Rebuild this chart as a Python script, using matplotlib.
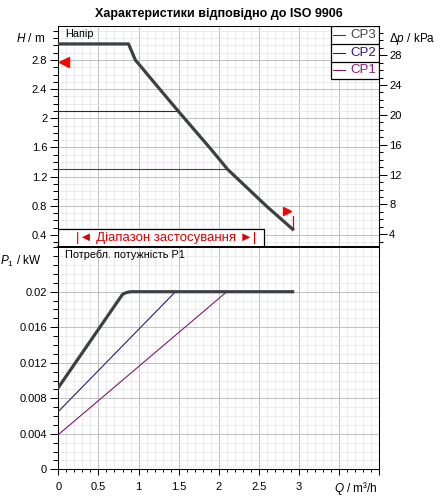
import numpy as np
import matplotlib
matplotlib.use("Agg")
import matplotlib.pyplot as plt
from matplotlib.patches import Rectangle
from matplotlib.ticker import MultipleLocator, FixedLocator, FuncFormatter

plt.rcParams['font.family'] = ['Liberation Sans', 'DejaVu Sans']
plt.rcParams['mathtext.fontset'] = 'custom'
plt.rcParams['mathtext.rm'] = 'Liberation Sans'
plt.rcParams['mathtext.it'] = 'Liberation Sans:italic'

# head curves, Q in m3/h, H in m
q_cp3 = [0, 0.875, 0.96, 1.31, 1.49, 1.9, 2.11, 2.6, 2.92]
h_cp3 = [3.02, 3.02, 2.80, 2.34, 2.105, 1.58, 1.30, 0.79, 0.48]
q_cp2 = [0, 1.49]
h_cp2 = [2.105, 2.105]
q_cp1 = [0, 2.11]
h_cp1 = [1.30, 1.30]

# power input P1, kW
qp_cp3 = [0, 0.80, 0.84, 0.88, 0.92, 2.92]
p_cp3 = [0.0092, 0.0197, 0.01988, 0.01997, 0.0200, 0.0200]
qp_cp2 = [0, 1.46]
p_cp2 = [0.0065, 0.0200]
qp_cp1 = [0, 2.10]
p_cp1 = [0.0039, 0.0200]

names = ['CP3', 'CP2', 'CP1']
colors = ['#3c4045', '#2a1c78', '#7d1a70']
label_colors = ['#474747', '#2a1c8a', '#8e1a80']
widths = [2.3, 0.8, 0.8]

h_mark = 2.77        # red marker on the H axis
kpa_per_m = 9.77
h_ticks = [0.4, 0.8, 1.2, 1.6, 2.0, 2.4, 2.8]
kpa_ticks = [4, 8, 12, 16, 20, 24, 28]
p_ticks = [0, 0.004, 0.008, 0.012, 0.016, 0.02]

W, H = 448, 501
fig = plt.figure(figsize=(W / 100, H / 100), dpi=100)
ax_top = fig.add_axes([58.3 / W, 1 - 246.7 / H, 321 / W, 220.7 / H])
ax_bot = fig.add_axes([58.3 / W, 1 - 469.3 / H, 321 / W, 222.6 / H])

fmt = FuncFormatter(lambda v, p: '%g' % round(v, 6))
grid_major = dict(color='#c2c2c2', lw=0.75)
grid_minor = dict(color='#e8e8e8', lw=0.6)

for ax in (ax_top, ax_bot):
    ax.set_xlim(0, 4.0)
    ax.xaxis.set_major_locator(MultipleLocator(0.5))
    ax.xaxis.set_minor_locator(MultipleLocator(0.1))
    ax.grid(which='major', **grid_major)
    ax.grid(which='minor', **grid_minor)
    ax.set_axisbelow(True)
    for s in ax.spines.values():
        s.set_linewidth(0.75)
    ax.tick_params(axis='y', which='major', length=6, width=0.75, pad=2, labelsize=8)
    ax.tick_params(axis='y', which='minor', length=3.6, width=0.75)

# ---- head plot ----
ax_top.set_ylim(0.2397, 3.266)
ax_top.yaxis.set_major_locator(FixedLocator(h_ticks))
ax_top.yaxis.set_minor_locator(MultipleLocator(0.1))
ax_top.yaxis.set_major_formatter(fmt)
ax_top.tick_params(axis='x', which='both', bottom=False, labelbottom=False)
ax_top.spines['bottom'].set_visible(False)

ax_top.plot(q_cp1, h_cp1, color=colors[2], lw=widths[2], zorder=3)
ax_top.plot(q_cp2, h_cp2, color=colors[1], lw=widths[1], zorder=3)
ax_top.plot(q_cp3, h_cp3, color=colors[0], lw=widths[0], zorder=4)

# red markers
ax_top.plot([0.074], [h_mark], marker='<', ms=6.5, color='#ff0000', zorder=5, clip_on=False)
ax_top.plot([q_cp3[-1], q_cp3[-1]], [h_cp3[-1], h_cp3[-1] + 0.18], color='#e00000', lw=0.9, zorder=5)
ax_top.plot([q_cp3[-1] - 0.07], [h_cp3[-1] + 0.25], marker='>', ms=6, color='#ff0000', zorder=5)

ax_r = ax_top.twinx()
lo, hi = ax_top.get_ylim()
ax_r.set_ylim(lo * kpa_per_m, hi * kpa_per_m)
ax_r.yaxis.set_major_locator(FixedLocator(kpa_ticks))
ax_r.yaxis.set_minor_locator(MultipleLocator(1))
ax_r.tick_params(axis='y', which='major', length=6, width=0.75, pad=1, labelsize=8)
ax_r.tick_params(axis='y', which='minor', length=3, width=0.75)
for s in ax_r.spines.values():
    s.set_visible(False)
ax_r.spines['right'].set_visible(True)
ax_r.spines['right'].set_linewidth(0.75)

ax_top.text(0.021, 0.962, 'Напір', transform=ax_top.transAxes, fontsize=7.8,
            ha='left', va='center', zorder=6)

# legend box with separators
lx0, lx1, ly0 = 0.8486, 1.0, 0.7585
row_h = (1 - ly0) / 3
ax_top.add_patch(Rectangle((lx0, ly0), lx1 - lx0, 1 - ly0, transform=ax_top.transAxes,
                           facecolor='white', edgecolor='black', lw=0.9, zorder=6))
for i, name in enumerate(names):
    yc = 1 - (i + 0.5) * row_h
    ax_top.plot([0.8555, 0.893], [yc, yc], transform=ax_top.transAxes,
                color=colors[i], lw=0.8, zorder=7)
    ax_top.text(0.9109, yc, name, transform=ax_top.transAxes, fontsize=9.5,
                color=label_colors[i], ha='left', va='center', zorder=7)
    if i > 0:
        ax_top.plot([lx0, lx1], [1 - i * row_h] * 2, transform=ax_top.transAxes,
                    color='black', lw=0.9, zorder=7)

# application range box
ax_top.add_patch(Rectangle((0, 0), 0.641, 0.0788, transform=ax_top.transAxes,
                           facecolor='white', edgecolor='black', lw=0.9, zorder=6))
ax_top.text(0.335, 0.039, '|◄ Діапазон застосування ►|', transform=ax_top.transAxes,
            fontsize=9.5, color='#e00000', ha='center', va='center', zorder=7)

# ---- power plot ----
ax_bot.set_ylim(0, 0.02507)
ax_bot.yaxis.set_major_locator(FixedLocator(p_ticks))
ax_bot.yaxis.set_minor_locator(MultipleLocator(0.001))
ax_bot.yaxis.set_major_formatter(fmt)
ax_bot.xaxis.set_major_formatter(FuncFormatter(lambda v, p: '' if v > 3.01 else '%g' % v))
ax_bot.tick_params(axis='x', which='major', length=4.2, width=0.75, pad=5, labelsize=8)
ax_bot.tick_params(axis='x', which='minor', length=2.5, width=0.75)
ax_bot.spines['top'].set_linewidth(1.4)

ax_bot.plot(qp_cp1, p_cp1, color=colors[2], lw=widths[2], zorder=3)
ax_bot.plot(qp_cp2, p_cp2, color=colors[1], lw=widths[1], zorder=3)
ax_bot.plot(qp_cp3, p_cp3, color=colors[0], lw=widths[0], zorder=4, solid_joinstyle='round')

ax_bot.text(0.021, 0.963, 'Потребл. потужність P1', transform=ax_bot.transAxes,
            fontsize=7.8, ha='left', va='center')

# axis captions
fig.text(45 / W, 1 - 38.3 / H, '$H$ / m', ha='right', va='center', fontsize=8.5)
fig.text(389 / W, 1 - 39.3 / H, 'Δ$p$ / kPa', ha='left', va='center', fontsize=8.5)
fig.text(41 / W, 1 - 261 / H, '$P_1$ / kW', ha='right', va='center', fontsize=8.5)
fig.text(378 / W, 1 - 488.3 / H, '$Q$ / m³/h', ha='right', va='center', fontsize=8.5)

fig.text(218.7 / W, 1 - 14 / H, 'Характеристики відповідно до ISO 9906', ha='center',
         va='center', fontsize=9, fontweight='bold')

fig.savefig('out.png', dpi=100)
